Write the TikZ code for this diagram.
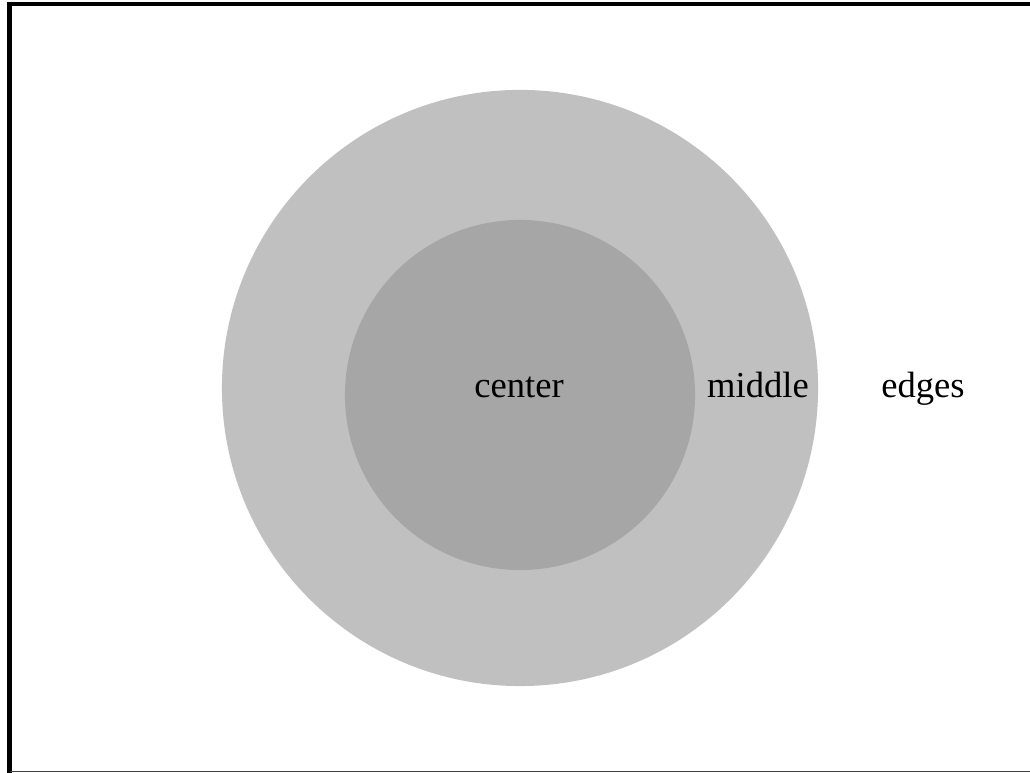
\documentclass[tikz,border=0pt]{standalone}
\usepackage{fontspec}
\setmainfont{Liberation Serif}
\usepackage{tikz}

\definecolor{ringgray}{RGB}{192,192,192}
\definecolor{coregray}{RGB}{166,166,166}

\begin{document}
\begin{tikzpicture}[
x=0.025cm, y=0.025cm,
zone/.style={circle, inner sep=0pt, draw=none},
word/.style={font=\fontsize{26}{30}\selectfont, anchor=base, inner sep=0pt},
frame/.style={line width=2.9pt},
baseline rule/.style={line width=1.1pt, black!75} ]

\useasboundingbox (0,0) rectangle (1030,773);

\draw[frame] (7,769) -- (1030,769);

\draw[frame] (9.5,771) -- (9.5,0);

\draw[baseline rule] (9.5,1.7) -- (1030,1.7);

\node[zone, fill=ringgray, minimum size=14.9cm](outer) at (520,385) {};

\node[zone, fill=coregray, minimum size=8.75cm](inner) at (520,378) {};

\node[word](center) at (519,375) {center};

\node[word](middle) at (758,375) {middle};

\node[word](edges) at (923,375) {edges};
\end{tikzpicture}
\end{document}
